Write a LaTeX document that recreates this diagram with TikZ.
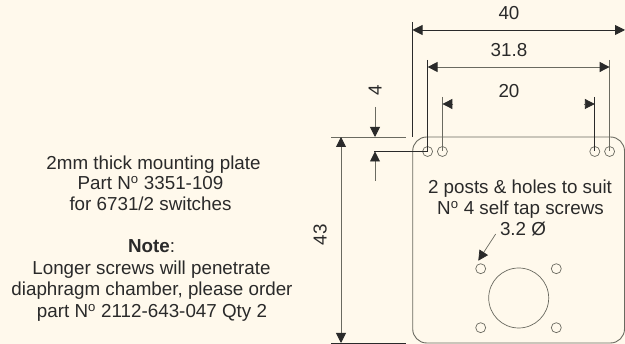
\documentclass[tikz,border=0pt]{standalone}
\usepackage{fontspec}
\setmainfont{Liberation Sans}
\usetikzlibrary{arrows.meta}
\definecolor{bg}{HTML}{FFF9EC}
\definecolor{ink}{HTML}{2A2A2A}
\definecolor{thin}{HTML}{6A6A60}
\tikzset{
  lbl/.style={font=\fontsize{18.8}{21}\selectfont,text=ink,inner sep=0pt,anchor=base},
  ext/.style={draw=thin,line width=0.8pt},
  extd/.style={draw=ink,line width=0.9pt},
  dim/.style={draw=thin,line width=0.9pt},
  dimboth/.style={dim,{Triangle[length=10pt,width=10pt,color=ink]}-{Triangle[length=10pt,width=10pt,color=ink]}},
  dimend/.style={dim,-{Triangle[length=10pt,width=10pt,color=ink]}},
  hole/.style={circle,draw=thin,line width=0.7pt,minimum size=10pt,inner sep=0pt},
  bore/.style={circle,draw=thin,line width=0.7pt,minimum size=60pt,inner sep=0pt},
}
\newcommand{\nth}{N\textsuperscript{o}}
\begin{document}
\begin{tikzpicture}[x=1pt,y=-1pt]
\useasboundingbox (0,0) rectangle (625,344);
\fill[bg] (0,0) rectangle (625,344);
% plate
\draw[draw=thin,line width=0.9pt,rounded corners=14pt] (412.7,137) rectangle (624.5,343);
% holes
\node[hole] (h1) at (427.6,151.5) {};
\node[hole] (h2) at (442.4,151.5) {};
\node[hole] (h3) at (594.8,151.5) {};
\node[hole] (h4) at (609.6,151.5) {};
\node[hole] (m1) at (480.7,268.7) {};
\node[hole] (m2) at (556.3,268.7) {};
\node[hole] (m3) at (480.7,327.7) {};
\node[hole] (m4) at (556.3,327.7) {};
\node[bore] (bore) at (518.7,298) {};
% extension lines
\coordinate (t40a) at (412.5,22);
\coordinate (b40a) at (412.5,137);
\coordinate (t318a) at (427.6,60);
\coordinate (t318b) at (609.6,60);
\coordinate (t20a) at (442.4,97);
\coordinate (t20b) at (594.8,97);
\draw[extd] (t40a) -- (b40a);
\draw[extd] (t318a) -- (h1.center);
\draw[ext] (t318b) -- (h4.center);
\draw[ext] (t20a) -- (h2.center);
\draw[extd] (t20b) -- (h3.center);
\coordinate (topL) at (331,137);
\coordinate (topR) at (406,137);
\coordinate (botL) at (331,343);
\coordinate (botR) at (406,343);
\draw[ext] (topL) -- (topR);
\draw[extd] (botL) -- (botR);
\coordinate (fourL) at (374,151.5);
\draw[extd] (fourL) -- (h1.center);
% dimensions
\coordinate (d40a) at (412.5,30);
\coordinate (d40b) at (625,30);
\draw[dimboth,draw=ink] (d40a) -- (d40b);
\coordinate (d318a) at (427.6,67);
\coordinate (d318b) at (609.6,67);
\draw[dimboth] (d318a) -- (d318b);
\coordinate (d20a) at (442.4,104);
\coordinate (d20b) at (594.8,104);
\coordinate (d20c) at (453.4,104);
\coordinate (d20d) at (583.8,104);
\draw[dimend] (d20c) -- (d20a);
\draw[dimend] (d20d) -- (d20b);
\coordinate (d43a) at (341,137);
\coordinate (d43b) at (341,343);
\draw[dimboth] (d43a) -- (d43b);
\coordinate (d4a) at (375,107);
\coordinate (d4b) at (375,137);
\coordinate (d4c) at (375,181);
\coordinate (d4d) at (375,151.5);
\draw[dimend] (d4a) -- (d4b);
\draw[dimend] (d4c) -- (d4d);
% leader
\coordinate (lead) at (495.7,234);
\coordinate (leadtip) at (478.3,260.7);
\draw[dim,line width=0.7pt,-{Triangle[length=10pt,width=10pt,color=ink]}] (lead) -- (leadtip);
% labels
\node[lbl] (l40) at (509,20) {40};
\node[lbl] (l318) at (509,56.7) {31.8};
\node[lbl] (l20) at (509,97.3) {20};
\node[lbl,rotate=90] (l4) at (381.7,90) {4};
\node[lbl,rotate=90] (l43) at (326.7,235) {43};
\node[lbl] (posts) at (520,194) {2 posts \& holes to suit};
\node[lbl] (posts2) at (520.5,215) {\nth{} 4 self tap screws};
\node[lbl] (posts3) at (523,235.7) {3.2 Ø};
\node[lbl] (a1) at (153.5,169.3) {2mm thick mounting plate};
\node[lbl] (a2) at (150.5,190) {Part \nth{} 3351-109};
\node[lbl] (a3) at (150.5,211) {for 6731/2 switches};
\node[lbl] (a4) at (151.5,253) {\textbf{Note}:};
\node[lbl] (a5) at (151.5,275) {Longer screws will penetrate};
\node[lbl] (a6) at (152,296) {diaphragm chamber, please order};
\node[lbl] (a7) at (152,318) {part \nth{} 2112-643-047 Qty 2};
\end{tikzpicture}
\end{document}
